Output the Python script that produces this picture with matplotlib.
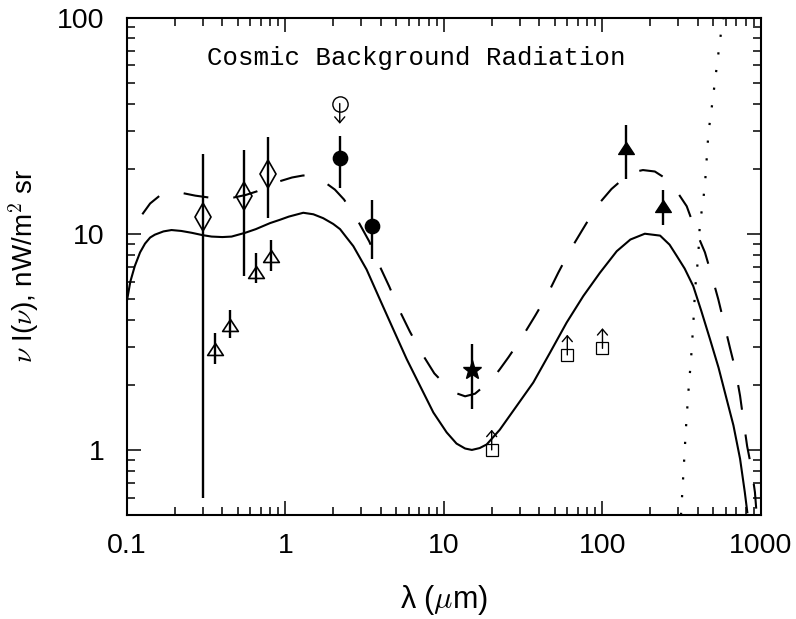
import numpy as np
import matplotlib.pyplot as plt
from matplotlib.ticker import LogLocator, FuncFormatter, NullFormatter
from matplotlib.path import Path

plt.rcParams['font.family'] = ['Liberation Sans', 'DejaVu Sans']
plt.rcParams['mathtext.fontset'] = 'cm'

# -------- model curves --------
solid_x = [0.1, 0.105, 0.112, 0.121, 0.130, 0.140, 0.150, 0.17, 0.191, 0.22, 0.256, 0.30, 0.342,
           0.40, 0.457, 0.557, 0.65, 0.80, 0.923, 1.05, 1.295, 1.5, 1.73, 2.0, 2.21, 2.43, 2.68,
           3.25, 3.94, 4.79, 5.82, 7.06, 8.57, 10.4, 12.0, 13.6, 15.0, 16.8, 18.6, 22.5, 28.8,
           36.6, 46.7, 59.4, 75.7, 96.4, 123, 150, 185, 231, 265, 294, 330, 374, 420, 477, 540,
           607, 670, 738, 790, 820]
solid_y = [4.9, 6.0, 7.08, 8.2, 9.0, 9.6, 9.9, 10.25, 10.4, 10.3, 10.1, 9.85, 9.7,
           9.65, 9.7, 10.1, 10.5, 11.2, 11.6, 12.0, 12.5, 12.3, 11.8, 11.1, 10.5, 9.6, 8.76,
           6.83, 4.97, 3.61, 2.63, 1.98, 1.49, 1.205, 1.07, 1.015, 1.0, 1.02, 1.06, 1.24, 1.60,
           2.05, 2.82, 3.88, 5.15, 6.6, 8.3, 9.4, 10.0, 9.8, 8.9, 7.9, 6.9, 5.72, 4.4, 3.25, 2.4,
           1.72, 1.3, 0.91, 0.64, 0.515]

dashed_x = [0.125, 0.14, 0.161, 0.20, 0.226, 0.27, 0.33, 0.40, 0.47, 0.56, 0.66, 0.78, 0.923,
            1.1, 1.295, 1.5, 1.77, 2.05, 2.34, 2.84, 3.38, 3.89, 4.52, 5.2, 6.1, 7.2, 8.69, 11.2,
            13.6, 15.7, 18.0, 20.5, 22.5, 25.5, 31, 37.5, 44.5, 52.6, 62, 74, 92, 114, 149, 180,
            214, 245, 280, 340, 384, 443, 489, 538, 578, 637, 690, 738, 773, 818, 873, 916, 940]
dashed_y = [12.3, 13.8, 15.0, 15.5, 15.4, 15.0, 14.7, 14.6, 14.7, 15.1, 15.7, 16.6, 17.5,
            18.2, 18.6, 18.3, 17.3, 16.0, 14.4, 11.6, 9.2, 7.2, 5.69, 4.47, 3.52, 2.82, 2.26, 1.86,
            1.77, 1.82, 1.98, 2.16, 2.36, 2.68, 3.31, 4.16, 5.15, 6.6, 8.3, 10.3, 13.4, 16.1, 19.1, 19.7,
            19.4, 18.2, 16.6, 13.4, 10.5, 8.2, 6.4, 4.97, 4.0, 2.97, 2.35, 1.78, 1.39, 1.04, 0.816,
            0.637, 0.5]

dotted_x = [313, 318, 327, 336, 348, 362, 374, 384, 402, 412, 429, 444, 466, 496, 530, 560, 580]
dotted_y = [0.5, 0.615, 0.877, 1.25, 1.84, 2.63, 3.81, 5.53, 7.87, 11.3, 13.6, 17.2, 29.2, 41.6,
            62, 85.5, 100]

# -------- measurements --------
dia_x = [0.30, 0.55, 0.78]
dia_y = [12.0, 14.9, 18.9]
dia_lo = [0.60, 6.4, 11.8]
dia_hi = [23.4, 24.5, 28.0]

otri_x = [0.36, 0.45, 0.65, 0.81]
otri_y = [2.92, 3.78, 6.67, 7.87]
otri_lo = [2.49, 3.28, 5.89, 6.71]
otri_hi = [3.46, 4.44, 8.16, 9.33]

fcirc_x = [2.2, 3.5]
fcirc_y = [22.3, 10.9]
fcirc_lo = [16.2, 7.6]
fcirc_hi = [28.2, 14.3]

ocirc_x = [2.2]          # upper limit
ocirc_y = [40.0]

star_x = [15.0]
star_y = [2.34]
star_lo = [1.55]
star_hi = [3.08]

sq_x = [20, 60, 100]     # lower limits
sq_y = [1.0, 2.75, 2.95]

ftri_x = [140, 240]
ftri_y = [24.9, 13.5]
ftri_lo = [17.9, 11.0]
ftri_hi = [31.9, 16.0]

arrow_fac = 1.24

fig = plt.figure(figsize=(7.96, 6.19), dpi=100)
ax = fig.add_axes([0.1595, 0.168, 0.7965, 0.8037])

ax.plot(solid_x, solid_y, color='k', lw=1.5)
ax.plot(dashed_x, dashed_y, color='k', lw=1.5, linestyle=(0, (12, 12)))
ax.plot(dotted_x, dotted_y, color='k', lw=1.6, linestyle=(0, (1, 7)))

tri = Path([(-1, -0.76), (1, -0.76), (0, 0.76), (-1, -0.76)],
           [Path.MOVETO, Path.LINETO, Path.LINETO, Path.CLOSEPOLY])


def errs(y, lo, hi):
    y = np.array(y)
    return [y - np.array(lo), np.array(hi) - y]


eb = dict(fmt='none', ecolor='k', elinewidth=1.7, capsize=0)
ax.errorbar(dia_x, dia_y, yerr=errs(dia_y, dia_lo, dia_hi), **eb)
ax.errorbar(otri_x, otri_y, yerr=errs(otri_y, otri_lo, otri_hi), **eb)
ax.errorbar(fcirc_x, fcirc_y, yerr=errs(fcirc_y, fcirc_lo, fcirc_hi), **eb)
ax.errorbar(star_x, star_y, yerr=errs(star_y, star_lo, star_hi), **eb)
ax.errorbar(ftri_x, ftri_y, yerr=errs(ftri_y, ftri_lo, ftri_hi), **eb)

ax.plot(dia_x, dia_y, 'd', ms=14, mfc='none', mec='k', mew=1.2)
ax.plot(otri_x, otri_y, marker=tri, ls='none', ms=11.3, mfc='none', mec='k', mew=1.2)
ax.plot(fcirc_x, fcirc_y, 'o', ms=10.3, color='k')
ax.plot(ocirc_x, ocirc_y, 'o', ms=11, mfc='none', mec='k', mew=1.0)
ax.plot(star_x, star_y, '*', ms=14, color='k')
ax.plot(sq_x, sq_y, 's', ms=9.3, mfc='none', mec='k', mew=0.9)
ax.plot(ftri_x, ftri_y, marker=tri, ls='none', ms=11.3, color='k')

arr = dict(arrowstyle='->,head_length=0.35,head_width=0.3', lw=1.0, color='k',
           shrinkA=0, shrinkB=0, mutation_scale=12)
for x, y in zip(ocirc_x, ocirc_y):
    ax.annotate('', xy=(x, y / arrow_fac), xytext=(x, y), arrowprops=arr)
for x, y in zip(sq_x, sq_y):
    ax.annotate('', xy=(x, y * arrow_fac), xytext=(x, y), arrowprops=arr)

ax.text(0.456, 0.919, 'Cosmic Background Radiation', transform=ax.transAxes,
        ha='center', va='center', fontsize=18.5, family='Liberation Mono')

ax.set_xscale('log')
ax.set_yscale('log')
ax.set_xlim(0.1, 1000)
ax.set_ylim(0.5, 100)

fmt = FuncFormatter(lambda v, p: f'{v:g}')
ax.xaxis.set_major_formatter(fmt)
ax.yaxis.set_major_formatter(fmt)
ax.xaxis.set_minor_locator(LogLocator(base=10, subs=np.arange(2, 10)))
ax.yaxis.set_minor_locator(LogLocator(base=10, subs=np.arange(2, 10)))
ax.xaxis.set_minor_formatter(NullFormatter())
ax.yaxis.set_minor_formatter(NullFormatter())

ax.tick_params(which='both', direction='in', top=True, right=True, labelsize=20.5)
ax.tick_params(which='major', length=10, width=1.1)
ax.tick_params(which='minor', length=5.5, width=1.1)
ax.tick_params(axis='y', pad=16)
ax.tick_params(axis='x', pad=13)
for s in ax.spines.values():
    s.set_linewidth(1.5)

ax.set_xlabel(r'λ ($\mu$m)', fontsize=22, labelpad=17)
ax.set_ylabel(r'$\nu$ I($\nu$), nW/m$^2$ sr', fontsize=20, labelpad=12)

fig.savefig('out.png', dpi=100)
